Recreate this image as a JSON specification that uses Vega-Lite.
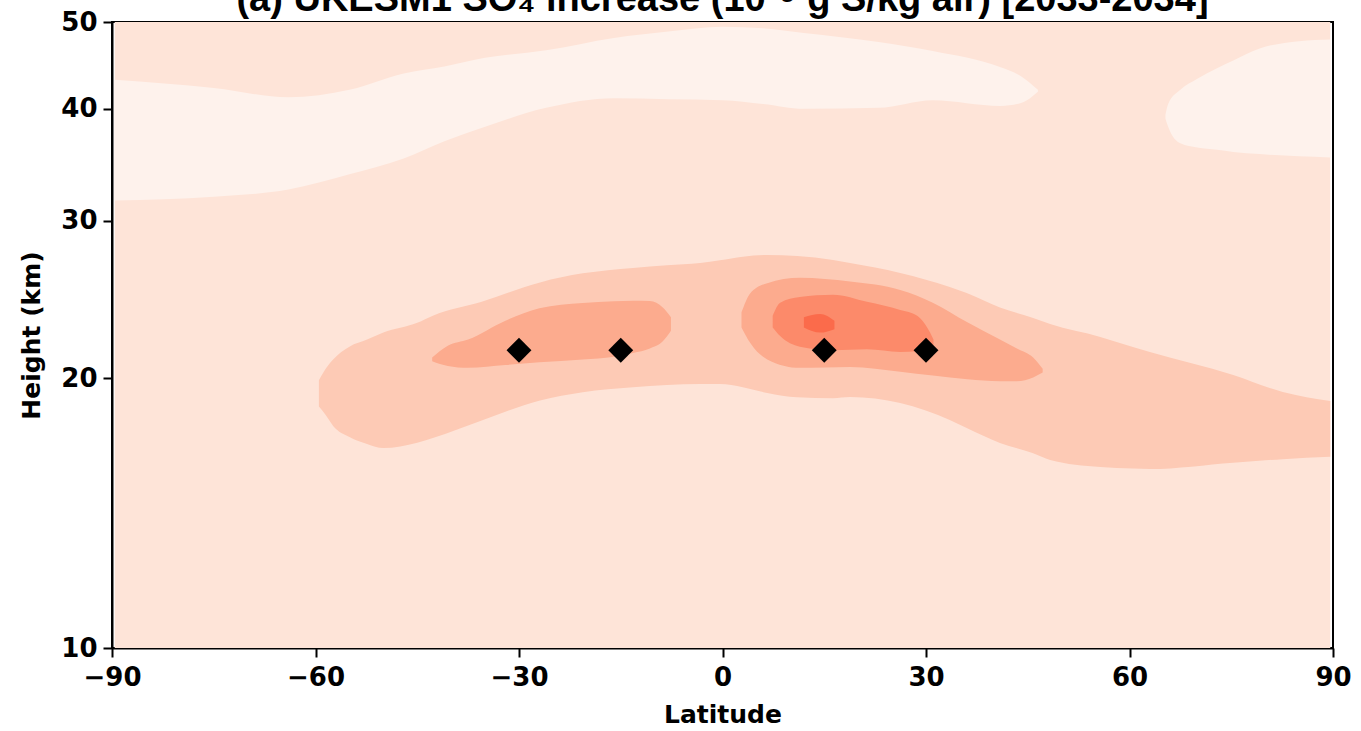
{
  "$schema": "https://vega.github.io/schema/vega-lite/v6.json",
  "autosize": {"type": "none"},
  "width": 1221,
  "height": 626,
  "padding": {"left": 112, "top": 22, "right": 28, "bottom": 83},
  "background": "white",
  "title": {
    "text": "(a) UKESM1 SO₄ increase (10⁻⁹ g S/kg air) [2033-2034]",
    "font": "Liberation Sans",
    "fontSize": 38,
    "fontWeight": "bold",
    "color": "black",
    "anchor": "middle",
    "baseline": "alphabetic",
    "offset": 0,
    "dy": 40
  },
  "config": {
    "view": {"stroke": "black", "strokeWidth": 2},
    "axis": {
      "domainColor": "black",
      "domainWidth": 2,
      "tickColor": "black",
      "tickWidth": 2,
      "tickSize": 9,
      "grid": false,
      "labelFont": "DejaVu Sans",
      "labelFontSize": 26,
      "labelFontWeight": "bold",
      "labelColor": "black",
      "titleFont": "DejaVu Sans",
      "titleFontSize": 25,
      "titleFontWeight": "bold",
      "titleColor": "black"
    }
  },
  "datasets": {
    "bg": [{"lat0": -89.6, "lat1": 89.6, "h0": 10, "h1": 50}],
    "regions": [
      {"region": "A", "lat": -89.6, "lo": 31.6, "hi": 43.1},
      {"region": "A", "lat": -75, "lo": 31.9, "hi": 42.2},
      {"region": "A", "lat": -64, "lo": 32.5, "hi": 41.2},
      {"region": "A", "lat": -55, "lo": 33.8, "hi": 42.0},
      {"region": "A", "lat": -47, "lo": 35.2, "hi": 43.8},
      {"region": "A", "lat": -41, "lo": 36.8, "hi": 44.6},
      {"region": "A", "lat": -35, "lo": 38.2, "hi": 45.6},
      {"region": "A", "lat": -26, "lo": 40.1, "hi": 46.5},
      {"region": "A", "lat": -16, "lo": 41.1, "hi": 48.0},
      {"region": "A", "lat": -8, "lo": 41.0, "hi": 48.8},
      {"region": "A", "lat": 0, "lo": 40.9, "hi": 49.4},
      {"region": "A", "lat": 6, "lo": 40.5, "hi": 49.2},
      {"region": "A", "lat": 12, "lo": 40.0, "hi": 48.6},
      {"region": "A", "lat": 23, "lo": 40.1, "hi": 47.5},
      {"region": "A", "lat": 31, "lo": 40.9, "hi": 46.4},
      {"region": "A", "lat": 41, "lo": 40.3, "hi": 44.5},
      {"region": "A", "lat": 44, "lo": 40.6, "hi": 43.5},
      {"region": "A", "lat": 46.5, "lo": 41.8, "hi": 42.0},
      {"region": "B", "lat": 65.3, "lo": 39.0, "hi": 39.4},
      {"region": "B", "lat": 65.7, "lo": 38.2, "hi": 40.5},
      {"region": "B", "lat": 67.5, "lo": 36.6, "hi": 42.0},
      {"region": "B", "lat": 70, "lo": 36.2, "hi": 43.2},
      {"region": "B", "lat": 72.9, "lo": 36.0, "hi": 44.4},
      {"region": "B", "lat": 75.3, "lo": 35.8, "hi": 45.3},
      {"region": "B", "lat": 79.2, "lo": 35.6, "hi": 46.7},
      {"region": "B", "lat": 85, "lo": 35.4, "hi": 47.6},
      {"region": "B", "lat": 89.6, "lo": 35.3, "hi": 47.8},
      {"region": "L2", "lat": -59.5, "lo": 18.6, "hi": 19.9},
      {"region": "L2", "lat": -58.5, "lo": 18.2, "hi": 20.5},
      {"region": "L2", "lat": -57.4, "lo": 17.7, "hi": 21.0},
      {"region": "L2", "lat": -55, "lo": 17.2, "hi": 21.7},
      {"region": "L2", "lat": -52.4, "lo": 16.9, "hi": 22.1},
      {"region": "L2", "lat": -50, "lo": 16.72, "hi": 22.5},
      {"region": "L2", "lat": -45, "lo": 16.95, "hi": 23.07},
      {"region": "L2", "lat": -42.7, "lo": 17.16, "hi": 23.5},
      {"region": "L2", "lat": -35.5, "lo": 17.95, "hi": 24.35},
      {"region": "L2", "lat": -26.9, "lo": 18.9, "hi": 25.6},
      {"region": "L2", "lat": -20.6, "lo": 19.3, "hi": 26.2},
      {"region": "L2", "lat": -13.2, "lo": 19.55, "hi": 26.57},
      {"region": "L2", "lat": -8.2, "lo": 19.66, "hi": 26.75},
      {"region": "L2", "lat": -3.3, "lo": 19.71, "hi": 26.91},
      {"region": "L2", "lat": -0.4, "lo": 19.71, "hi": 27.1},
      {"region": "L2", "lat": 3, "lo": 19.55, "hi": 27.35},
      {"region": "L2", "lat": 6.6, "lo": 19.26, "hi": 27.47},
      {"region": "L2", "lat": 11, "lo": 19.05, "hi": 27.4},
      {"region": "L2", "lat": 16.3, "lo": 19.0, "hi": 27.12},
      {"region": "L2", "lat": 18.8, "lo": 19.06, "hi": 26.9},
      {"region": "L2", "lat": 26.2, "lo": 18.77, "hi": 26.23},
      {"region": "L2", "lat": 33.5, "lo": 17.97, "hi": 25.3},
      {"region": "L2", "lat": 36, "lo": 17.6, "hi": 24.91},
      {"region": "L2", "lat": 40.9, "lo": 16.94, "hi": 24.0},
      {"region": "L2", "lat": 45.8, "lo": 16.5, "hi": 23.36},
      {"region": "L2", "lat": 48.3, "lo": 16.22, "hi": 23.0},
      {"region": "L2", "lat": 55.7, "lo": 15.93, "hi": 22.25},
      {"region": "L2", "lat": 60.5, "lo": 15.86, "hi": 21.68},
      {"region": "L2", "lat": 63, "lo": 15.84, "hi": 21.4},
      {"region": "L2", "lat": 75.3, "lo": 16.1, "hi": 20.18},
      {"region": "L2", "lat": 82.6, "lo": 16.25, "hi": 19.31},
      {"region": "L2", "lat": 89.6, "lo": 16.35, "hi": 18.87},
      {"region": "L3a", "lat": -42.8, "lo": 20.9, "hi": 21.1},
      {"region": "L3a", "lat": -40.5, "lo": 20.65, "hi": 21.75},
      {"region": "L3a", "lat": -37.5, "lo": 20.55, "hi": 22.1},
      {"region": "L3a", "lat": -32, "lo": 20.7, "hi": 23.2},
      {"region": "L3a", "lat": -27, "lo": 20.85, "hi": 23.95},
      {"region": "L3a", "lat": -20.6, "lo": 21.0, "hi": 24.28},
      {"region": "L3a", "lat": -16, "lo": 21.15, "hi": 24.38},
      {"region": "L3a", "lat": -13.2, "lo": 21.35, "hi": 24.42},
      {"region": "L3a", "lat": -10.7, "lo": 21.6, "hi": 24.4},
      {"region": "L3a", "lat": -8.8, "lo": 22.0, "hi": 24.0},
      {"region": "L3a", "lat": -7.6, "lo": 22.6, "hi": 23.4},
      {"region": "L3b", "lat": 2.8, "lo": 22.8, "hi": 23.7},
      {"region": "L3b", "lat": 4.1, "lo": 21.9, "hi": 24.9},
      {"region": "L3b", "lat": 6.6, "lo": 21.0, "hi": 25.55},
      {"region": "L3b", "lat": 11.4, "lo": 20.55, "hi": 25.9},
      {"region": "L3b", "lat": 18.8, "lo": 20.6, "hi": 25.65},
      {"region": "L3b", "lat": 26.2, "lo": 20.35, "hi": 25.1},
      {"region": "L3b", "lat": 31, "lo": 20.15, "hi": 24.3},
      {"region": "L3b", "lat": 36.1, "lo": 19.95, "hi": 23.1},
      {"region": "L3b", "lat": 40.9, "lo": 19.85, "hi": 22.1},
      {"region": "L3b", "lat": 43.4, "lo": 19.85, "hi": 21.6},
      {"region": "L3b", "lat": 45.8, "lo": 20.05, "hi": 21.1},
      {"region": "L3b", "lat": 47.2, "lo": 20.3, "hi": 20.5},
      {"region": "L4", "lat": 7.4, "lo": 22.8, "hi": 23.5},
      {"region": "L4", "lat": 8.5, "lo": 22.3, "hi": 24.3},
      {"region": "L4", "lat": 11.4, "lo": 21.7, "hi": 24.65},
      {"region": "L4", "lat": 16.3, "lo": 21.5, "hi": 24.8},
      {"region": "L4", "lat": 21.3, "lo": 21.55, "hi": 24.35},
      {"region": "L4", "lat": 26.2, "lo": 21.4, "hi": 23.85},
      {"region": "L4", "lat": 28.7, "lo": 21.45, "hi": 23.5},
      {"region": "L4", "lat": 30.6, "lo": 21.5, "hi": 22.5},
      {"region": "L4", "lat": 31.1, "lo": 21.8, "hi": 22.1},
      {"region": "L5", "lat": 12.0, "lo": 22.8, "hi": 23.4},
      {"region": "L5", "lat": 14.4, "lo": 22.5, "hi": 23.6},
      {"region": "L5", "lat": 16.5, "lo": 22.7, "hi": 23.2}
    ],
    "sites": [
      {"lat": -30, "height": 21.5},
      {"lat": -15, "height": 21.5},
      {"lat": 15, "height": 21.5},
      {"lat": 30, "height": 21.5}
    ]
  },
  "layer": [
    {
      "data": {"name": "bg"},
      "mark": {"type": "rect", "color": "#fee4d8"},
      "encoding": {
        "x": {"field": "lat0", "type": "quantitative", "scale": {"domain": [-90, 90], "nice": false, "zero": false},
              "axis": {"values": [-90, -60, -30, 0, 30, 60, 90], "title": "Latitude", "labelPadding": 7, "titlePadding": 12, "labelFlush": false}},
        "x2": {"field": "lat1"},
        "y": {"field": "h1", "type": "quantitative", "scale": {"type": "log", "domain": [10, 50], "nice": false, "zero": false},
              "axis": {"values": [10, 20, 30, 40, 50], "format": "d", "title": "Height (km)", "labelPadding": 6, "titlePadding": 16, "labelFlush": false}},
        "y2": {"field": "h0"}
      }
    },
    {
      "data": {"name": "regions"},
      "transform": [{"filter": "datum.region === 'A'"}],
      "mark": {"type": "area", "color": "#fef2ec", "interpolate": "monotone"},
      "encoding": {"x": {"field": "lat", "type": "quantitative"}, "y": {"field": "hi", "type": "quantitative"}, "y2": {"field": "lo"}}
    },
    {
      "data": {"name": "regions"},
      "transform": [{"filter": "datum.region === 'B'"}],
      "mark": {"type": "area", "color": "#fef2ec", "interpolate": "monotone"},
      "encoding": {"x": {"field": "lat", "type": "quantitative"}, "y": {"field": "hi", "type": "quantitative"}, "y2": {"field": "lo"}}
    },
    {
      "data": {"name": "regions"},
      "transform": [{"filter": "datum.region === 'L2'"}],
      "mark": {"type": "area", "color": "#fdcab5", "interpolate": "monotone"},
      "encoding": {"x": {"field": "lat", "type": "quantitative"}, "y": {"field": "hi", "type": "quantitative"}, "y2": {"field": "lo"}}
    },
    {
      "data": {"name": "regions"},
      "transform": [{"filter": "datum.region === 'L3a'"}],
      "mark": {"type": "area", "color": "#fcab8e", "interpolate": "monotone"},
      "encoding": {"x": {"field": "lat", "type": "quantitative"}, "y": {"field": "hi", "type": "quantitative"}, "y2": {"field": "lo"}}
    },
    {
      "data": {"name": "regions"},
      "transform": [{"filter": "datum.region === 'L3b'"}],
      "mark": {"type": "area", "color": "#fcab8e", "interpolate": "monotone"},
      "encoding": {"x": {"field": "lat", "type": "quantitative"}, "y": {"field": "hi", "type": "quantitative"}, "y2": {"field": "lo"}}
    },
    {
      "data": {"name": "regions"},
      "transform": [{"filter": "datum.region === 'L4'"}],
      "mark": {"type": "area", "color": "#fc8a6a", "interpolate": "monotone"},
      "encoding": {"x": {"field": "lat", "type": "quantitative"}, "y": {"field": "hi", "type": "quantitative"}, "y2": {"field": "lo"}}
    },
    {
      "data": {"name": "regions"},
      "transform": [{"filter": "datum.region === 'L5'"}],
      "mark": {"type": "area", "color": "#fb6b4b", "interpolate": "monotone"},
      "encoding": {"x": {"field": "lat", "type": "quantitative"}, "y": {"field": "hi", "type": "quantitative"}, "y2": {"field": "lo"}}
    },
    {
      "data": {"name": "sites"},
      "mark": {"type": "point", "shape": "diamond", "filled": true, "color": "black", "opacity": 1, "size": 620},
      "encoding": {"x": {"field": "lat", "type": "quantitative"}, "y": {"field": "height", "type": "quantitative"}}
    }
  ]
}
